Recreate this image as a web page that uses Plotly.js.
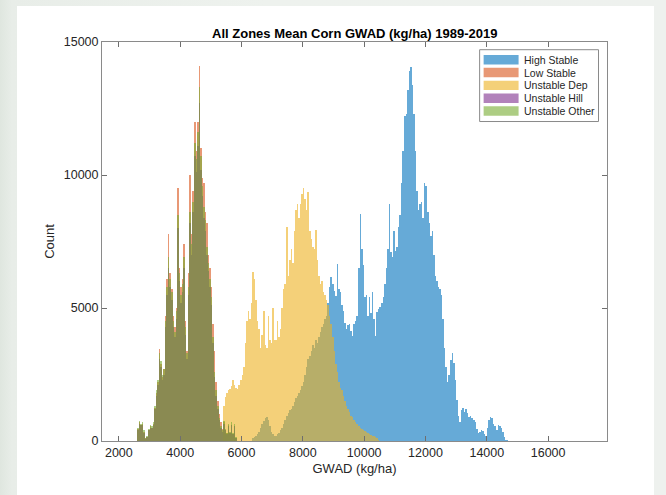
<!DOCTYPE html>
<html>
<head>
<meta charset="utf-8">
<script src="https://cdn.plot.ly/plotly-3.0.1.min.js"></script>
<style>
  html, body { margin: 0; padding: 0; width: 666px; height: 495px; overflow: hidden;
    background: linear-gradient(90deg, #dfe6df 0px, #e8ede8 12px, #eef2ee 40%, #eef1ee 100%); }
  #panel { position: absolute; left: 17px; top: 6px; width: 637px; height: 489px; background: #ffffff; }
  #chart { position: absolute; left: 0; top: 0; width: 666px; height: 495px; }
</style>
</head>
<body>
<div id="panel"></div>
<div id="chart"></div>
<script>
// ---------------- data ----------------
const binWidth = 50;
const seriesNames = ["High Stable", "Low Stable", "Unstable Dep", "Unstable Hill", "Unstable Other"];
const xTickVals = [2000, 4000, 6000, 8000, 10000, 12000, 14000, 16000];
const yTickVals = [0, 5000, 10000, 15000];

// High Stable (bins start at 6350)
const highStableStart = 6350;
const highStableCounts = [
  100,150,200,250,350,500,650,750,850,900,
  800,550,350,250,200,200,250,300,400,500,
  650,800,950,1050,1150,1200,1300,1450,1600,1700,
  1800,1900,2050,2200,2500,2800,3100,3200,3400,3600,
  3500,3800,3700,3900,4100,4300,4400,4600,4700,
  5200,5800,6150,5900,5650,5450,6650,5700,5600,5100,
  4900,4450,4200,4350,4400,4150,3950,4400,4500,4700,
  6500,8550,7200,6600,5400,5500,4700,5400,4800,5600,
  4600,3950,4850,4950,5050,5200,5400,5900,6500,7200,
  8900,7100,6900,7900,7150,7300,8050,8500,9700,10900,
  12200,12300,13200,13900,14050,13400,12300,10900,9400,8700,
  8900,9000,8400,9700,9600,8600,8200,7700,7900,7000,
  6200,6000,5800,5700,5500,4600,3500,2800,2200,2500,
  3050,3300,2950,2300,1550,950,700,1150,1250,1100,
  1200,1050,900,950,850,800,700,450,300,350,
  400,380,250,180,500,780,900,850,650,550,
  400,600,580,500,350,150,
  40,20,0,0,10,0,0,0,15,0,
  0,0,0,10,0,0,0,0,0,15,
  0,0,0,0,0,0,0,0,10,0,
  0,0,0,0,0,0,0,0,0,0,
  0,0,0,15,0
];

// Low Stable (bins start at 2600)
const lowStableStart = 2600;
const lowStableCounts = [
  450,700,600,650,350,100,150,400,550,500,
  650,1250,1800,2200,3450,2900,2400,2700,4700,6100,
  7800,6300,5700,4700,4300,5000,9500,6500,5800,6100,
  7400,4500,3400,6300,10000,7800,9400,12000,10900,12000,
  14100,11000,9900,9700,8600,8200,7000,6500,5800,4400,
  3400,2200,1500,1000,700,450,700,400,300,600,
  300,600,250,550,100,0
];

// Unstable Dep (bins start at 5400)
const unstableDepStart = 5400;
const unstableDepCounts = [
  1300,1650,1800,1900,1950,2050,2300,2100,2000,1950,
  2100,2300,2500,2800,3700,4500,4900,4600,5200,6350,
  6100,5300,4500,4200,3500,4000,4900,3600,3500,4700,
  3800,3700,5000,3800,3800,4500,3900,4200,5000,5700,
  5900,8050,6200,6800,7200,6700,7900,8700,8900,8400,
  8900,9300,9500,9100,8700,9350,7900,7600,7300,7200,
  7950,6800,6200,5900,6000,5600,5500,5300,5100,4700,
  4400,3900,3400,2900,2600,2200,2000,1900,1700,1500,
  1300,1200,1100,950,900,800,700,650,550,500,
  450,400,380,350,300,260,230,200,180,150,
  100,50
];

// Unstable Hill (bins start at 2600)
const unstableHillStart = 2600;
const unstableHillCounts = [
  400,650,600,600,300,80,150,400,500,500,
  600,1200,1700,2100,3100,2800,2300,2500,4300,5500,
  6500,5800,5300,4300,3900,4600,8000,6000,5200,5600,
  6500,4000,3100,5500,8200,7000,8600,10700,10100,11100,
  12700,10200,9200,8400,7900,7000,6400,5800,5100,3700,
  2400,1700,1200,800,500,350,650,400,250,550,
  300,600,250,550,120,0
];

// Unstable Other (bins start at 2600)
const unstableOtherStart = 2600;
const unstableOtherCounts = [
  500,750,650,700,400,100,200,450,600,550,
  700,1300,1900,2300,3300,3000,2500,2700,4500,5800,
  6900,6100,5600,4500,4100,4900,8500,6300,5500,5900,
  6900,4300,3300,5800,8600,7400,9000,11200,10600,11600,
  13300,10700,9600,8800,8300,7300,6700,6100,5400,3900,
  2600,1900,1300,850,550,400,750,450,300,650,
  350,700,300,650,150,0
];

// ---------------- style ----------------
const colors = [
  "rgba(0,114,189,0.6)",
  "rgba(217,83,25,0.6)",
  "rgba(237,177,32,0.6)",
  "rgba(126,47,142,0.6)",
  "rgba(119,172,48,0.6)"
];
const FONT = "Liberation Sans, Arial, Helvetica, sans-serif";
const TXT = "#262626";

const starts = [highStableStart, lowStableStart, unstableDepStart, unstableHillStart, unstableOtherStart];
const counts = [highStableCounts, lowStableCounts, unstableDepCounts, unstableHillCounts, unstableOtherCounts];

const traces = counts.map((c, k) => ({
  type: "bar",
  name: seriesNames[k],
  x: c.map((_, i) => starts[k] + binWidth * (i + 0.5)),
  y: c,
  width: binWidth,
  marker: { color: colors[k], line: { width: 0 } },
  showlegend: false,
  hoverinfo: "x+y+name"
}));

// plot area geometry (pixels)
const W = 666, H = 495;
const PL = 102, PR = 607.5, PT = 42.3, PB = 440.7;
const px2x = p => (p - PL) / (PR - PL);
const py2y = p => 1 - (p - PT) / (PB - PT);

// manual MATLAB-like legend
const shapes = [];
const annotations = [];
shapes.push({ type: "rect", xref: "paper", yref: "paper",
  x0: px2x(480), x1: px2x(599), y0: py2y(121.7), y1: py2y(50),
  fillcolor: "#ffffff", line: { color: "#8a8a8a", width: 1 }, layer: "above" });
const rowY = [60, 72.8, 85.6, 98.4, 111.2];
seriesNames.forEach((nm, k) => {
  shapes.push({ type: "rect", xref: "paper", yref: "paper",
    x0: px2x(484), x1: px2x(519), y0: py2y(rowY[k] + 4.7), y1: py2y(rowY[k] - 4.7),
    fillcolor: colors[k], line: { width: 0 }, layer: "above" });
  annotations.push({ xref: "paper", yref: "paper", x: px2x(522.5), y: py2y(rowY[k]),
    xanchor: "left", yanchor: "middle", text: nm, showarrow: false,
    font: { family: FONT, size: 10.5, color: TXT } });
});

const layout = {
  width: W, height: H,
  margin: { l: PL, r: W - PR, t: PT, b: H - PB, pad: 0 },
  paper_bgcolor: "rgba(0,0,0,0)",
  plot_bgcolor: "#ffffff",
  barmode: "overlay",
  bargap: 0,
  font: { family: FONT, color: TXT, size: 12 },
  title: { text: "<b>All Zones Mean Corn GWAD (kg/ha) 1989-2019</b>",
    font: { family: FONT, size: 13, color: "#000000" },
    x: (PL + PR) / 2 / W, xanchor: "center", xref: "container",
    y: 1 - 33 / H, yanchor: "middle", yref: "container" },
  xaxis: {
    range: [1450, 17920], tickvals: xTickVals, ticktext: xTickVals.map(String),
    ticks: "inside", ticklen: 5, tickwidth: 1, tickcolor: "#6e6e6e",
    showline: true, linecolor: "#8a8a8a", linewidth: 1, mirror: "ticks",
    showgrid: false, zeroline: false, automargin: false,
    tickfont: { family: FONT, size: 12.5, color: TXT },
    title: { text: "GWAD (kg/ha)", font: { family: FONT, size: 13, color: TXT }, standoff: 4 }
  },
  yaxis: {
    range: [0, 15000], tickvals: yTickVals, ticktext: yTickVals.map(String),
    ticks: "inside", ticklen: 5, tickwidth: 1, tickcolor: "#6e6e6e",
    showline: true, linecolor: "#8a8a8a", linewidth: 1, mirror: "ticks",
    showgrid: false, zeroline: false, automargin: false,
    tickfont: { family: FONT, size: 12.5, color: TXT },
    title: { text: "Count", font: { family: FONT, size: 13, color: TXT }, standoff: 6 }
  },
  shapes: shapes,
  annotations: annotations
};

Plotly.newPlot("chart", traces, layout, { displayModeBar: false, staticPlot: true });
</script>
</body>
</html>
